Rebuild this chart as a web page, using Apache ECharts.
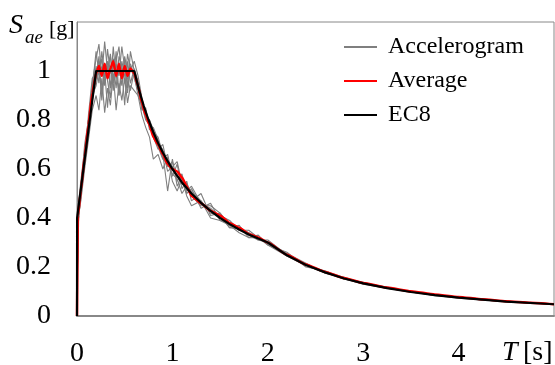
<!DOCTYPE html>
<html>
<head>
<meta charset="utf-8">
<script src="https://cdn.jsdelivr.net/npm/echarts@6/dist/echarts.min.js"></script>
<style>
  html, body { margin: 0; padding: 0; background: #fff; }
  #chart { width: 555px; height: 365px; }
</style>
</head>
<body>
<div id="chart"></div>
<script>
// periods T [s] shared by accelerogram spectra and average
const periods = [0, 0.01, 0.04, 0.08, 0.12, 0.16,
  0.2, 0.23, 0.26, 0.29, 0.32, 0.35, 0.38, 0.41, 0.44, 0.47, 0.5, 0.53, 0.56,
  0.6, 0.64, 0.68, 0.72, 0.76, 0.8,
  0.85, 0.9, 0.95, 1.0, 1.05, 1.1, 1.15, 1.2,
  1.3, 1.4, 1.5, 1.6, 1.7, 1.8, 1.9, 2.0,
  2.2, 2.4, 2.6, 2.8, 3.0,
  3.25, 3.5, 3.75, 4.0, 4.25, 4.5, 4.75, 5.0];

// spectral accelerations Sae [g] of the accelerograms
const acc1 = [0, 0.42, 0.50, 0.66, 0.78, 0.92,
  1.02, 0.95, 1.08, 0.98, 1.04, 0.93, 1.10, 0.97, 1.02, 0.94, 1.06, 0.99, 1.03,
  0.98, 0.90, 0.86, 0.80, 0.78, 0.73,
  0.68, 0.70, 0.61, 0.63, 0.55, 0.58, 0.50, 0.52,
  0.44, 0.46, 0.39, 0.38, 0.36, 0.34, 0.31, 0.31,
  0.25, 0.21, 0.18, 0.155, 0.135,
  0.116, 0.100, 0.086, 0.077, 0.068, 0.060, 0.054, 0.048];
const acc2 = [0, 0.38, 0.48, 0.62, 0.80, 0.88,
  0.96, 1.06, 0.88, 1.00, 0.85, 1.02, 0.95, 1.08, 0.90, 1.00, 0.86, 1.04, 0.95,
  1.01, 0.96, 0.84, 0.85, 0.76, 0.77,
  0.72, 0.64, 0.66, 0.57, 0.62, 0.52, 0.55, 0.47,
  0.50, 0.41, 0.42, 0.36, 0.37, 0.32, 0.33, 0.29,
  0.26, 0.20, 0.185, 0.150, 0.138,
  0.112, 0.102, 0.083, 0.078, 0.065, 0.061, 0.052, 0.049];
const acc3 = [0, 0.44, 0.55, 0.68, 0.74, 0.95,
  1.05, 1.11, 0.98, 1.12, 1.00, 1.07, 0.96, 1.04, 1.10, 0.97, 1.05, 0.93, 1.08,
  1.00, 0.93, 0.87, 0.82, 0.80, 0.74,
  0.69, 0.64, 0.62, 0.58, 0.56, 0.50, 0.53, 0.51,
  0.47, 0.42, 0.41, 0.39, 0.35, 0.35, 0.32, 0.30,
  0.255, 0.215, 0.175, 0.158, 0.132,
  0.118, 0.097, 0.088, 0.074, 0.069, 0.058, 0.055, 0.047];
const acc4 = [0, 0.40, 0.47, 0.60, 0.72, 0.84,
  0.90, 0.84, 0.97, 0.83, 0.93, 0.86, 0.99, 0.84, 0.95, 0.88, 0.97, 0.87, 0.94,
  0.92, 0.90, 0.82, 0.77, 0.73, 0.64,
  0.66, 0.60, 0.65, 0.55, 0.51, 0.56, 0.49, 0.45,
  0.47, 0.40, 0.39, 0.37, 0.34, 0.32, 0.32, 0.29,
  0.245, 0.205, 0.18, 0.152, 0.13,
  0.113, 0.098, 0.084, 0.073, 0.066, 0.058, 0.053, 0.048];
const acc5 = [0, 0.43, 0.53, 0.64, 0.82, 0.97,
  0.99, 1.04, 1.01, 0.94, 1.09, 0.99, 1.03, 0.93, 1.06, 1.02, 0.95, 1.07, 1.00,
  1.04, 0.98, 0.89, 0.83, 0.79, 0.76,
  0.70, 0.68, 0.59, 0.61, 0.63, 0.54, 0.52, 0.49,
  0.45, 0.45, 0.42, 0.37, 0.36, 0.33, 0.31, 0.30,
  0.25, 0.21, 0.183, 0.157, 0.137,
  0.117, 0.101, 0.087, 0.077, 0.067, 0.060, 0.054, 0.049];
const acc6 = [0, 0.36, 0.50, 0.63, 0.77, 0.90,
  0.94, 1.00, 0.91, 1.03, 0.96, 0.89, 1.05, 1.00, 0.90, 1.04, 0.98, 0.91, 1.02,
  0.97, 0.92, 0.85, 0.84, 0.77, 0.75,
  0.73, 0.66, 0.51, 0.64, 0.53, 0.57, 0.51, 0.53,
  0.46, 0.44, 0.40, 0.38, 0.35, 0.34, 0.315, 0.295,
  0.252, 0.207, 0.176, 0.154, 0.134,
  0.114, 0.099, 0.086, 0.076, 0.066, 0.059, 0.053, 0.048];
const acc7 = [0, 0.41, 0.51, 0.70, 0.80, 0.93,
  1.08, 0.99, 1.05, 0.95, 1.01, 1.06, 0.92, 1.03, 0.98, 1.10, 1.01, 0.97, 0.92,
  1.00, 0.95, 0.88, 0.81, 0.80, 0.76,
  0.71, 0.67, 0.63, 0.60, 0.57, 0.55, 0.54, 0.50,
  0.46, 0.43, 0.41, 0.36, 0.355, 0.335, 0.315, 0.30,
  0.245, 0.212, 0.18, 0.151, 0.136,
  0.115, 0.100, 0.087, 0.076, 0.067, 0.059, 0.054, 0.048];

const average = [0, 0.41, 0.51, 0.65, 0.78, 0.91,
  0.99, 1.02, 0.98, 1.03, 0.97, 1.01, 1.04, 0.98, 1.03, 0.97, 1.02, 0.98, 1.01,
  0.99, 0.94, 0.87, 0.82, 0.78, 0.73,
  0.70, 0.66, 0.62, 0.60, 0.59, 0.565, 0.53, 0.49,
  0.46, 0.43, 0.41, 0.38, 0.36, 0.335, 0.32, 0.30,
  0.25, 0.21, 0.18, 0.155, 0.135,
  0.116, 0.101, 0.088, 0.078, 0.068, 0.060, 0.054, 0.048];

// EC8 elastic spectrum
const ec8Periods = [0, 0.001, 0.2, 0.6, 0.65, 0.7, 0.75, 0.8, 0.85, 0.9, 0.95, 1.0, 1.1, 1.2, 1.3, 1.4,
  1.5, 1.6, 1.7, 1.8, 1.9, 2.0, 2.2, 2.4, 2.6, 2.8, 3.0, 3.25, 3.5, 3.75, 4.0, 4.5, 5.0];
const ec8Values = [0, 0.4, 1.0, 1.0, 0.923, 0.857, 0.8, 0.75, 0.706, 0.667, 0.632, 0.6, 0.545, 0.5, 0.462, 0.429,
  0.4, 0.375, 0.353, 0.333, 0.316, 0.3, 0.248, 0.208, 0.178, 0.153, 0.133, 0.114, 0.098, 0.085, 0.075, 0.059, 0.048];

const xTicks = [0, 1, 2, 3, 4];
const yTicks = [0, 0.2, 0.4, 0.6, 0.8, 1];

const serif = "'Liberation Serif', 'DejaVu Serif', serif";
const accelerograms = [acc1, acc2, acc3, acc4, acc5, acc6, acc7];

function pairs(xs, ys) {
  return xs.map((x, i) => [x, ys[i]]);
}

const series = accelerograms.map((arr) => ({
  name: 'Accelerogram',
  type: 'line',
  data: pairs(periods, arr),
  showSymbol: false,
  symbol: 'none',
  lineStyle: { color: '#7f7f7f', width: 1.1 },
  itemStyle: { color: '#7f7f7f' },
  z: 2,
}));
series.push({
  name: 'Average',
  type: 'line',
  data: pairs(periods, average),
  smooth: 0.15,
  smoothMonotone: 'x',
  showSymbol: false,
  symbol: 'none',
  lineStyle: { color: '#ff0000', width: 2.5 },
  itemStyle: { color: '#ff0000' },
  z: 3,
});
series.push({
  name: 'EC8',
  type: 'line',
  data: pairs(ec8Periods, ec8Values),
  showSymbol: false,
  symbol: 'none',
  lineStyle: { color: '#000000', width: 2.2 },
  itemStyle: { color: '#000000' },
  z: 4,
});

const chart = echarts.init(document.getElementById('chart'), null, { renderer: 'canvas' });
chart.setOption({
  animation: false,
  backgroundColor: '#ffffff',
  grid: {
    left: 77, right: 1, top: 22, bottom: 49,
    outerBoundsMode: 'none',
    containLabel: false,
    show: true, borderColor: '#888888', borderWidth: 1,
  },
  legend: {
    data: ['Accelerogram', 'Average', 'EC8'],
    orient: 'vertical',
    left: 339,
    top: 30,
    icon: 'rect',
    itemWidth: 33,
    itemHeight: 2,
    itemGap: 10,
    textStyle: { fontFamily: serif, fontSize: 24, color: '#000', padding: [0, 0, 0, 6] },
  },
  xAxis: {
    type: 'value',
    min: 0, max: 5, interval: 1,
    axisLine: { show: true, lineStyle: { color: '#888888', width: 2 } },
    axisTick: { show: false },
    splitLine: { show: false },
    axisLabel: {
      margin: 24,
      fontFamily: serif, fontSize: 28, color: '#000',
      formatter: (v) => (xTicks.includes(v) ? String(v) : ''),
    },
  },
  yAxis: {
    type: 'value',
    min: 0, max: 1.2, interval: 0.2,
    axisLine: { show: true, lineStyle: { color: '#888888', width: 1 } },
    axisTick: { show: false },
    splitLine: { show: false },
    axisLabel: {
      margin: 26,
      fontFamily: serif, fontSize: 28, color: '#000',
      formatter: (v) => {
        const t = yTicks.find((y) => Math.abs(y - v) < 1e-6);
        return t === undefined ? '' : String(t);
      },
    },
  },
  graphic: [
    { type: 'text', left: 9, top: 12, style: { text: 'S', font: 'italic 28px ' + serif, fill: '#000' } },
    { type: 'text', left: 25, top: 28, style: { text: 'ae', font: 'italic 19px ' + serif, fill: '#000' } },
    { type: 'text', left: 49, top: 18, style: { text: '[g]', font: '22px ' + serif, fill: '#000' } },
    { type: 'text', left: 502, top: 339, style: { text: 'T', font: 'italic 28px ' + serif, fill: '#000' } },
    { type: 'text', left: 523, top: 339, style: { text: '[s]', font: '28px ' + serif, fill: '#000' } },
  ],
  series,
});
</script>
</body>
</html>
